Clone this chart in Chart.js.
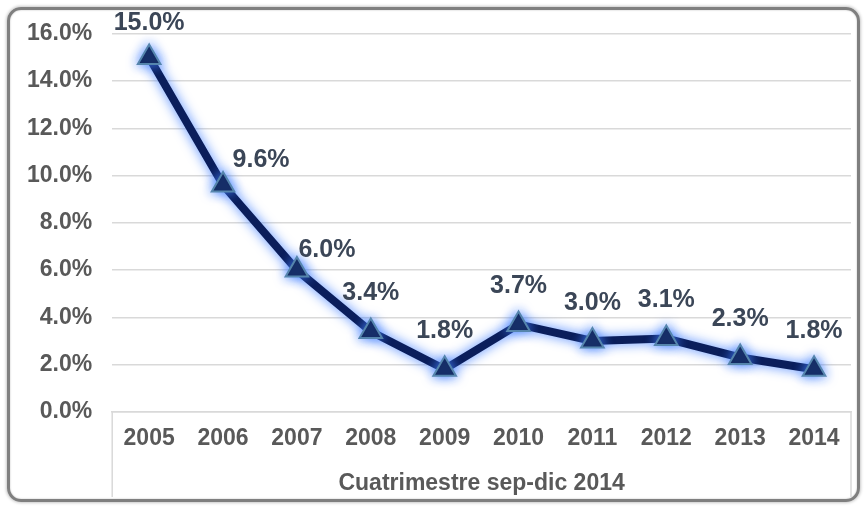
<!DOCTYPE html>
<html>
<head>
<meta charset="utf-8">
<script src="https://cdn.jsdelivr.net/npm/chart.js@4/dist/chart.umd.min.js"></script>
<style>
  body { margin: 0; background: #fff; }
  #frame {
    position: absolute; left: 7px; top: 7px; width: 847px; height: 489px;
    border: 3px solid #7f7f7f; border-radius: 14px;
    box-shadow: 0 0 3px 1px #c8c8c8, inset 0 0 2px #bbb;
  }
  #wrap { position: absolute; left: 0; top: 0; width: 866px; height: 508px; }
</style>
</head>
<body>
<div id="frame"></div>
<div id="wrap"><canvas id="myChart"></canvas></div>
<script>
var years = ['2005', '2006', '2007', '2008', '2009', '2010', '2011', '2012', '2013', '2014'];
var rates = [15.0, 9.6, 6.0, 3.4, 1.8, 3.7, 3.0, 3.1, 2.3, 1.8];
var yTicks = [0, 2, 4, 6, 8, 10, 12, 14, 16];
var axisTitle = 'Cuatrimestre sep-dic 2014';

var fontFam = '"Liberation Sans", Arial, sans-serif';

// blue glow around the line and markers
var glow = {
    id: 'glow',
    beforeDatasetDraw: function(chart) {
        var ctx = chart.ctx;
        ctx.save();
        ctx.shadowColor = 'rgba(70,130,255,0.95)';
        ctx.shadowBlur = 12;
    },
    afterDatasetDraw: function(chart) {
        chart.ctx.restore();
    }
};

// value labels above the points
var valueLabels = {
    id: 'valueLabels',
    afterDatasetsDraw: function(chart, args, opts) {
        var ctx = chart.ctx;
        var meta = chart.getDatasetMeta(0);
        ctx.save();
        ctx.font = 'bold 25px ' + fontFam;
        ctx.fillStyle = '#3b4657';
        ctx.textAlign = 'center';
        ctx.textBaseline = 'middle';
        meta.data.forEach(function(pt, i) {
            var off = opts.shift[i] || [0, -38];
            ctx.fillText(rates[i].toFixed(1) + '%', pt.x + off[0], pt.y + off[1]);
        });
        ctx.restore();
    }
};

// box below the plot around the category labels
var catBox = {
    id: 'catBox',
    afterDraw: function(chart) {
        var ctx = chart.ctx;
        var x = chart.scales.x;
        var a = chart.chartArea;
        ctx.save();
        ctx.strokeStyle = '#d9d9d9';
        ctx.lineWidth = 1.5;
        ctx.beginPath();
        ctx.moveTo(x.left, a.bottom);
        ctx.lineTo(x.left, x.bottom);
        ctx.moveTo(x.right, a.bottom);
        ctx.lineTo(x.right, x.bottom);
        ctx.stroke();
        ctx.restore();
    }
};

var ctx = document.getElementById('myChart').getContext('2d');
var chart = new Chart(ctx, {
    type: 'line',
    data: {
        labels: years,
        datasets: [{
            data: rates,
            borderColor: '#0b1e5b',
            borderWidth: 8,
            tension: 0,
            pointStyle: 'triangle',
            pointRadius: 13,
            pointBackgroundColor: '#0b1a42',
            pointBorderColor: '#5585ad',
            pointBorderWidth: 2
        }]
    },
    plugins: [glow, valueLabels, catBox],
    options: {
        responsive: true,
        maintainAspectRatio: false,
        animation: false,
        layout: { padding: { left: 7, right: 15, top: 31, bottom: 11 } },
        plugins: {
            legend: { display: false },
            tooltip: { enabled: false },
            valueLabels: {
                shift: { 0: [0, -34], 1: [38, -25], 2: [30, -20] }
            }
        },
        scales: {
            x: {
                offset: true,
                grid: { display: false },
                border: { color: '#d9d9d9', width: 1.5 },
                ticks: {
                    color: '#595959',
                    font: { family: fontFam, size: 23, weight: 'bold' },
                    padding: 5
                },
                title: {
                    display: true,
                    text: axisTitle,
                    color: '#595959',
                    font: { family: fontFam, size: 23, weight: 'bold' },
                    padding: { top: 12, bottom: 0 }
                }
            },
            y: {
                min: 0,
                max: 16,
                afterBuildTicks: function(axis) {
                    axis.ticks = yTicks.map(function(v) { return { value: v }; });
                },
                grid: { color: '#d9d9d9', lineWidth: 1.5, drawTicks: false },
                border: { display: false },
                ticks: {
                    color: '#595959',
                    font: { family: fontFam, size: 23, weight: 'bold' },
                    padding: 20,
                    callback: function(v) { return v.toFixed(1) + '%'; }
                }
            }
        }
    }
});
</script>
</body>
</html>
